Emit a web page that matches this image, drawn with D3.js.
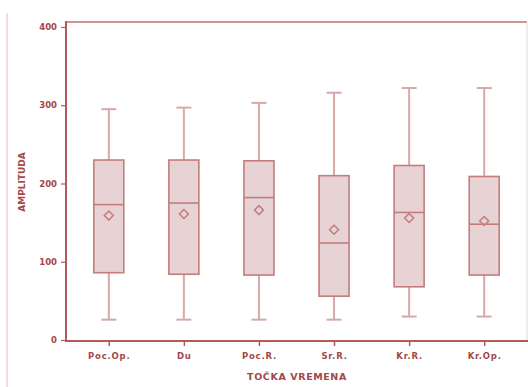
<!DOCTYPE html>
<html><head><meta charset="utf-8">
<script src="https://cdn.jsdelivr.net/npm/d3@7"></script>
<style>body{margin:0;background:#fff}svg{display:block}</style>
</head><body>
<svg id="c" width="528" height="387"></svg>
<script>
const categories = ["Poc.Op.", "Du", "Poc.R.", "Sr.R.", "Kr.R.", "Kr.Op."];
const whiskerLow = [26, 26, 26, 26, 30, 30];
const q1 = [86, 84, 83, 56, 68, 83];
const median = [173, 175, 182, 124, 163, 148];
const q3 = [230, 230, 229, 210, 223, 209];
const whiskerHigh = [295, 297, 303, 316, 322, 322];
const means = [159, 161, 166, 141, 156, 152];
const yTicks = [0, 100, 200, 300, 400];

const svg = d3.select("#c");
const L = 66, R = 527, T = 22, B = 341;
const x = d3.scalePoint().domain(categories).range([L, R]).padding(0.57);
const y = d3.scaleLinear().domain([0, 400]).range([340, 27]);

const axisCol = "#b25a5a", textCol = "#a24848", boxCol = "#c47c7c", whiskCol = "#d8a8a8", fillCol = "#e7d3d3";

// faint left border line
svg.append("line").attr("x1", 7).attr("x2", 7).attr("y1", 13).attr("y2", 387)
  .attr("stroke", "#e9bcbc").attr("stroke-width", 1);

// frame top/right
svg.append("line").attr("x1", L).attr("x2", R).attr("y1", T).attr("y2", T)
  .attr("stroke", "#d09494").attr("stroke-width", 2);
svg.append("line").attr("x1", R).attr("x2", R).attr("y1", T).attr("y2", B)
  .attr("stroke", "#ecd6d6").attr("stroke-width", 1);

const data = categories.map((c, i) => ({c, lo: whiskerLow[i], q1: q1[i], md: median[i], q3: q3[i], hi: whiskerHigh[i], mn: means[i]}));
const bw = 30, cap = 15;
const g = svg.append("g").selectAll("g").data(data).join("g");
g.append("line").attr("x1", d => x(d.c)).attr("x2", d => x(d.c)).attr("y1", d => y(d.hi)).attr("y2", d => y(d.q3))
  .attr("stroke", whiskCol).attr("stroke-width", 2);
g.append("line").attr("x1", d => x(d.c)).attr("x2", d => x(d.c)).attr("y1", d => y(d.q1)).attr("y2", d => y(d.lo))
  .attr("stroke", whiskCol).attr("stroke-width", 2);
g.append("line").attr("x1", d => x(d.c) - cap/2).attr("x2", d => x(d.c) + cap/2).attr("y1", d => y(d.hi)).attr("y2", d => y(d.hi))
  .attr("stroke", whiskCol).attr("stroke-width", 2);
g.append("line").attr("x1", d => x(d.c) - cap/2).attr("x2", d => x(d.c) + cap/2).attr("y1", d => y(d.lo)).attr("y2", d => y(d.lo))
  .attr("stroke", whiskCol).attr("stroke-width", 2);
g.append("rect").attr("x", d => x(d.c) - bw/2).attr("width", bw).attr("y", d => y(d.q3)).attr("height", d => y(d.q1) - y(d.q3))
  .attr("fill", fillCol).attr("stroke", boxCol).attr("stroke-width", 1.6);
g.append("line").attr("x1", d => x(d.c) - bw/2).attr("x2", d => x(d.c) + bw/2).attr("y1", d => y(d.md)).attr("y2", d => y(d.md))
  .attr("stroke", boxCol).attr("stroke-width", 1.6);
g.append("path").attr("d", d => { const cx = x(d.c), cy = y(d.mn), r = 4.5; return `M${cx},${cy-r}L${cx+r},${cy}L${cx},${cy+r}L${cx-r},${cy}Z`; })
  .attr("fill", "none").attr("stroke", boxCol).attr("stroke-width", 1.5);

// axes
const ya = svg.append("g").attr("transform", `translate(${L},0)`)
  .call(d3.axisLeft(y).tickValues(yTicks).tickSize(5).tickPadding(4));
ya.select(".domain").remove();
ya.selectAll(".tick line").attr("stroke", axisCol).attr("stroke-width", 1.2);
ya.selectAll(".tick text").attr("fill", textCol).attr("font-family", "DejaVu Sans").attr("font-size", 8.5).attr("font-weight", "bold");
svg.append("line").attr("x1", L).attr("x2", L).attr("y1", T - 1).attr("y2", B + 1).attr("stroke", axisCol).attr("stroke-width", 2);

const xa = svg.append("g").attr("transform", `translate(0,${B})`)
  .call(d3.axisBottom(x).tickSize(5).tickPadding(7));
xa.select(".domain").remove();
xa.selectAll(".tick line").attr("stroke", axisCol).attr("stroke-width", 1.5);
xa.selectAll(".tick text").attr("fill", textCol).attr("font-family", "DejaVu Sans").attr("font-size", 8.5).attr("font-weight", "bold")
  .attr("letter-spacing", "0.8px");
svg.append("line").attr("x1", L).attr("x2", R + 1).attr("y1", B).attr("y2", B).attr("stroke", axisCol).attr("stroke-width", 2);

svg.append("text").attr("x", 297).attr("y", 380).attr("text-anchor", "middle")
  .attr("fill", textCol).attr("font-family", "DejaVu Sans").attr("font-size", 9.5).attr("font-weight", "bold")
  .attr("letter-spacing", "0.6px").text("TOČKA VREMENA");
svg.append("text").attr("transform", "translate(25,182) rotate(-90)").attr("text-anchor", "middle")
  .attr("fill", textCol).attr("font-family", "DejaVu Sans").attr("font-size", 9).attr("font-weight", "bold")
  .text("AMPLITUDA");
</script>
</body></html>
